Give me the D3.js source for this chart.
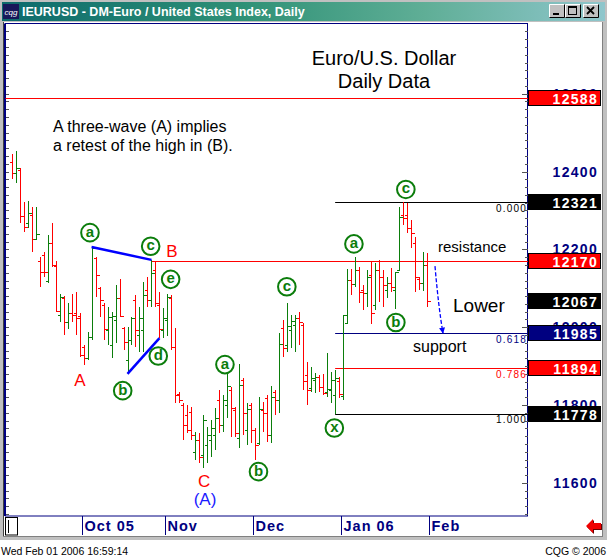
<!DOCTYPE html>
<html>
<head>
<meta charset="utf-8">
<script src="https://cdn.jsdelivr.net/npm/d3@7"></script>
<style>
html, body { margin: 0; padding: 0; background: #fff; overflow: hidden; }
svg { display: block; }
text { font-family: "Liberation Sans", Arial, sans-serif; }
</style>
</head>
<body>
<svg id="chart" width="607" height="558"></svg>
<script>
// EUR/USD daily bars, every weekday from Sep 8 2005 to Feb 1 2006
const firstDay = '2005-09-08';
const lastDay = '2006-02-01';

const highs = [
  12445, 12452, 12409, 12321, 12324, 12309, 12309, 12180, 12193, 12237,
  12268, 12170, 12085, 12080, 12062, 12085, 12090, 12037, 11954, 11988,
  12206, 12180, 12103, 12062, 12052, 12039, 12108, 12124, 12001, 12001,
  12026, 12083, 12052, 12116, 12129, 12173, 12167, 12090, 12049, 12085,
  12083, 11998, 11834, 11806, 11800, 11795, 11731, 11728, 11775, 11744,
  11762, 11793, 11839, 11826, 11883, 11847, 11795, 11906, 11870, 11806,
  11806, 11741, 11821, 11808, 11826, 11849, 11839, 11985, 12019, 12062,
  12031, 12031, 12039, 12011, 11911, 11898, 11883, 11877, 11880, 11934,
  11885, 11890, 11872, 12031, 12149, 12149, 12180, 12155, 12108, 12147,
  12170, 12165, 12173, 12147, 12129, 12152, 12142, 12309, 12321, 12319,
  12275, 12232, 12129, 12193, 12191
];
const lows = [
  12381, 12370, 12268, 12244, 12255, 12193, 12224, 12103, 12129, 12114,
  12155, 12039, 12013, 11980, 11995, 12013, 11980, 11924, 11903, 11916,
  11967, 12078, 12026, 11967, 11954, 11921, 11960, 12026, 11942, 11880,
  11954, 11949, 11936, 11936, 12052, 12052, 12052, 11972, 11972, 11977,
  11942, 11806, 11806, 11711, 11728, 11711, 11659, 11651, 11639, 11651,
  11667, 11685, 11728, 11731, 11767, 11718, 11718, 11690, 11723, 11698,
  11703, 11659, 11698, 11731, 11705, 11703, 11775, 11780, 11924, 11936,
  11947, 11936, 11954, 11839, 11800, 11834, 11831, 11834, 11826, 11821,
  11806, 11778, 11818, 11813, 12008, 12083, 12103, 12062, 12044, 12052,
  12008, 12044, 12065, 12052, 12075, 12090, 12047, 12147, 12262, 12242,
  12203, 12090, 12096, 12093, 12052
];
const opens = [
  12424, 12396, 12404, 12286, 12268, 12288, 12226, 12170, 12185, 12119,
  12216, 12157, 12031, 12075, 12013, 12037, 12037, 12029, 11949, 11921,
  11975, 12178, 12101, 12057, 11993, 11954, 12019, 12075, 11998, 11916,
  11967, 12070, 11980, 11993, 12096, 12070, 12147, 12057, 11993, 12019,
  12075, 11949, 11829, 11800, 11775, 11782, 11680, 11711, 11672, 11698,
  11711, 11723, 11813, 11749, 11800, 11839, 11788, 11716, 11865, 11736,
  11800, 11736, 11703, 11788, 11818, 11723, 11834, 11813, 11998, 11954,
  11993, 12006, 12024, 12006, 11877, 11844, 11865, 11872, 11847, 11834,
  11839, 11826, 11862, 11823, 12011, 12121, 12111, 12147, 12096, 12088,
  12134, 12057, 12147, 12129, 12096, 12114, 12096, 12147, 12288, 12288,
  12255, 12216, 12124, 12114, 12160
];
const closes = [
  12396, 12409, 12286, 12257, 12293, 12226, 12239, 12142, 12142, 12216,
  12160, 12042, 12078, 12013, 12037, 12031, 12024, 11929, 11921, 11975,
  12203, 12134, 12070, 11995, 12026, 12029, 12075, 12029, 11962, 11967,
  12024, 11993, 12024, 12083, 12070, 12139, 12062, 11995, 12024, 12078,
  11949, 11826, 11813, 11749, 11736, 11723, 11711, 11667, 11762, 11723,
  11741, 11767, 11749, 11813, 11849, 11793, 11728, 11852, 11780, 11790,
  11736, 11698, 11790, 11780, 11723, 11821, 11813, 11957, 11947, 12003,
  12016, 12024, 12013, 11862, 11839, 11870, 11872, 11847, 11831, 11841,
  11865, 11870, 11829, 12031, 12121, 12111, 12147, 12090, 12088, 12129,
  12037, 12147, 12129, 12108, 12114, 12103, 12142, 12283, 12280, 12255,
  12242, 12129, 12114, 12160, 12067
];

// levels drawn across the chart
const highInB = 12588;
const resistanceLevel = 12170;
const fibHigh = 12321;
const fibLow = 11778;
const fibRatios = [0, 0.618, 0.786, 1];
const priceLabels = [12600, 12400, 12200, 12000, 11800, 11600];

// elliott wave labels: bar number (from first bar) and price they sit at
const circledLabels = [
  { t: 'a', bar: 19.6, price: 12243 },
  { t: 'c', bar: 34.8, price: 12208 },
  { t: 'e', bar: 39.8, price: 12123 },
  { t: 'd', bar: 36.7, price: 11926 },
  { t: 'b', bar: 27.8, price: 11837 },
  { t: 'a', bar: 53.4, price: 11904 },
  { t: 'b', bar: 61.8, price: 11629 },
  { t: 'c', bar: 68.9, price: 12104 },
  { t: 'x', bar: 80.8, price: 11741 },
  { t: 'a', bar: 85.7, price: 12214 },
  { t: 'b', bar: 96.2, price: 12012 },
  { t: 'c', bar: 98.7, price: 12354 }
];
const waveLetters = [
  { t: 'B', bar: 40.1, price: 12196 },
  { t: 'A', bar: 17.1, price: 11865 },
  { t: 'C', bar: 48.2, price: 11605 },
  { t: '(A)', bar: 48.4, price: 11559 }
];
// triangle (B): line over the a-c highs, line under the b-d lows
const triangleTop = [20, 35];
const triangleBottom = [29, 37];

const GREEN = '#0b7d0b', RED = '#ff0000', NAVY = '#000080', BLUE = '#0000ff';

const parseDay = d3.utcParse('%Y-%m-%d');
const days = d3.utcDay.range(parseDay(firstDay), d3.utcDay.offset(parseDay(lastDay), 1))
  .filter(function(d) { return d.getUTCDay() > 0 && d.getUTCDay() < 6; });
const bars = days.map(function(d, i) {
  return { date: d, i: i, o: opens[i], h: highs[i], l: lows[i], c: closes[i] };
});

const svg = d3.select('#chart');
const plot = { left: 5.5, top: 23.5, right: 527.5, bottom: 516 };

const x = d3.scaleLinear().domain([0, bars.length - 1]).range([11.7, 427]);
const y = d3.scaleLinear().domain([11515, 12779]).range([516, 24]);
const px = function(v) { return Math.round(v) + 0.5; };

// ---- window chrome ----
svg.append('rect').attr('width', 607).attr('height', 558).attr('fill', '#fff');
svg.append('rect').attr('x', 0).attr('y', 0).attr('width', 607).attr('height', 22).attr('fill', '#c0c0c0');
svg.append('rect').attr('x', 0).attr('y', 0).attr('width', 4).attr('height', 540).attr('fill', '#c0c0c0');
svg.append('rect').attr('x', 602).attr('y', 0).attr('width', 5).attr('height', 540).attr('fill', '#c0c0c0');
svg.append('rect').attr('x', 0).attr('y', 536).attr('width', 607).attr('height', 4).attr('fill', '#c0c0c0');
svg.append('line').attr('x1', 3.5).attr('x2', 3.5).attr('y1', 22).attr('y2', 537).attr('stroke', '#404040');
svg.append('line').attr('x1', 602.5).attr('x2', 602.5).attr('y1', 22).attr('y2', 537).attr('stroke', '#808080');
svg.append('line').attr('x1', 3).attr('x2', 603).attr('y1', 536.5).attr('y2', 536.5).attr('stroke', '#808080');

const grad = svg.append('defs').append('linearGradient').attr('id', 'titlebar');
[['0%', '#0d6a6c'], ['40%', '#2f9176'], ['70%', '#5fae96'], ['100%', '#8fc6cc']].forEach(function(s) {
  grad.append('stop').attr('offset', s[0]).attr('stop-color', s[1]);
});
svg.append('rect').attr('x', 2).attr('y', 2).attr('width', 603).attr('height', 19).attr('fill', 'url(#titlebar)');
svg.append('rect').attr('x', 3).attr('y', 4).attr('width', 16).attr('height', 15).attr('fill', '#17175a');
svg.append('text').attr('x', 11).attr('y', 14.5).attr('text-anchor', 'middle')
  .attr('font-size', 8).attr('font-style', 'italic').attr('fill', '#fff').text('cqg');
svg.append('text').attr('x', 22).attr('y', 16).attr('font-size', 12.5).attr('font-weight', 'bold')
  .attr('fill', '#fff').text('IEURUSD - DM-Euro / United States Index, Daily');

// minimise / maximise / close buttons
[549, 565, 583].forEach(function(bx, k) {
  const b = svg.append('g').attr('transform', 'translate(' + bx + ',4)');
  b.append('rect').attr('width', 16).attr('height', 14).attr('fill', '#c0c0c0');
  b.append('path').attr('d', 'M0.5,13.5V0.5H15.5').attr('fill', 'none').attr('stroke', '#fff');
  b.append('path').attr('d', 'M0.5,13.5H15.5V0.5').attr('fill', 'none').attr('stroke', '#000');
  if (k === 0) b.append('rect').attr('x', 4).attr('y', 9).attr('width', 6).attr('height', 2).attr('fill', '#000');
  if (k === 1) {
    b.append('rect').attr('x', 3.5).attr('y', 2.5).attr('width', 8).attr('height', 8)
      .attr('fill', 'none').attr('stroke', '#000');
    b.append('line').attr('x1', 3.5).attr('x2', 11.5).attr('y1', 3.5).attr('y2', 3.5).attr('stroke', '#000');
  }
  if (k === 2) b.append('path').attr('d', 'M4,3L11,10M11,3L4,10').attr('stroke', '#000').attr('stroke-width', 1.8);
});

// ---- plot frame and price ticks ----
svg.append('rect').attr('x', plot.left).attr('y', plot.top)
  .attr('width', plot.right - plot.left).attr('height', plot.bottom - plot.top)
  .attr('fill', '#fff').attr('stroke', NAVY);
svg.append('line').attr('x1', 5).attr('x2', 5).attr('y1', plot.top).attr('y2', plot.bottom)
  .attr('stroke', NAVY).attr('stroke-width', 2);

const minorTicks = d3.range(11520, 12780, 20);
const majorTicks = minorTicks.filter(function(v) { return v % 200 === 0; });
function tickAxis(g, axis) {
  g.call(axis);
  g.select('.domain').remove();
  g.selectAll('line').attr('stroke', '#555').attr('shape-rendering', 'crispEdges');
  g.selectAll('text').remove();
}
svg.append('g').attr('transform', 'translate(6,0)')
  .call(tickAxis, d3.axisRight(y).tickValues(minorTicks).tickSize(3));
svg.append('g').attr('transform', 'translate(' + plot.right + ',0)')
  .call(tickAxis, d3.axisLeft(y).tickValues(minorTicks).tickSize(3));
svg.append('g').attr('transform', 'translate(' + plot.right + ',0)')
  .call(tickAxis, d3.axisLeft(y).tickValues(majorTicks).tickSize(6));

// ---- horizontal levels ----
svg.append('line').attr('x1', plot.left).attr('x2', plot.right + 1)
  .attr('y1', px(y(highInB))).attr('y2', px(y(highInB))).attr('stroke', RED);
svg.append('line').attr('x1', x(triangleTop[1])).attr('x2', plot.right + 1)
  .attr('y1', px(y(resistanceLevel))).attr('y2', px(y(resistanceLevel))).attr('stroke', RED);

const fibColors = ['#000', NAVY, RED, '#000'];
const fibStart = x(bars.findIndex(function(b) { return b.l === fibLow; }));
const fibs = fibRatios.map(function(r, k) {
  return { r: r, v: Math.round(fibHigh - r * (fibHigh - fibLow)), color: fibColors[k] };
});
const fibG = svg.append('g');
fibG.selectAll('line').data(fibs).join('line')
  .attr('x1', fibStart).attr('x2', plot.right)
  .attr('y1', function(d) { return px(y(d.v)); }).attr('y2', function(d) { return px(y(d.v)); })
  .attr('stroke', function(d) { return d.color; });
fibG.selectAll('text').data(fibs).join('text')
  .attr('x', 527).attr('y', function(d) { return y(d.v) + 9.5; })
  .attr('text-anchor', 'end').attr('font-family', '"DejaVu Sans Mono", monospace')
  .attr('font-size', 10).attr('letter-spacing', 1.2)
  .attr('fill', function(d) { return d.color; })
  .text(function(d) { return d.r.toFixed(3); });

// ---- bars ----
svg.append('g').selectAll('path').data(bars).join('path')
  .attr('fill', 'none').attr('shape-rendering', 'crispEdges')
  .attr('stroke', function(d) { return d.c > d.o ? GREEN : RED; })
  .attr('d', function(d) {
    const bx = px(x(d.i));
    const yo = px(y(d.o)), yc = px(y(d.c));
    return 'M' + bx + ',' + Math.round(y(d.h)) + 'V' + Math.round(y(d.l)) +
      'M' + (bx - 3) + ',' + yo + 'H' + bx + 'M' + bx + ',' + yc + 'H' + (bx + 3);
  });

// ---- triangle lines ----
svg.append('line')
  .attr('x1', x(triangleTop[0])).attr('y1', y(highs[triangleTop[0]]))
  .attr('x2', x(triangleTop[1])).attr('y2', y(highs[triangleTop[1]]))
  .attr('stroke', BLUE).attr('stroke-width', 2.5);
svg.append('line')
  .attr('x1', x(triangleBottom[0])).attr('y1', y(lows[triangleBottom[0]]))
  .attr('x2', x(triangleBottom[1])).attr('y2', y(lows[triangleBottom[1]]))
  .attr('stroke', BLUE).attr('stroke-width', 2.5);

// ---- wave labels ----
const circ = svg.append('g').selectAll('g').data(circledLabels).join('g')
  .attr('transform', function(d) { return 'translate(' + x(d.bar) + ',' + y(d.price) + ')'; });
circ.append('circle').attr('r', 8.8).attr('fill', 'none').attr('stroke', GREEN).attr('stroke-width', 2);
circ.append('text').attr('text-anchor', 'middle').attr('y', 4)
  .attr('font-family', '"Liberation Serif", "Times New Roman", serif')
  .attr('font-weight', 'bold').attr('font-size', 15).attr('fill', GREEN)
  .text(function(d) { return d.t; });

svg.append('g').selectAll('text').data(waveLetters).join('text')
  .attr('x', function(d) { return x(d.bar); })
  .attr('y', function(d) { return y(d.price) + 6; })
  .attr('text-anchor', 'middle').attr('font-size', 17)
  .attr('fill', function(d) { return d.t === '(A)' ? '#1a1aff' : RED; })
  .text(function(d) { return d.t; });

// ---- projection arrow ----
const defs = svg.select('defs');
defs.append('marker').attr('id', 'head').attr('viewBox', '0 0 10 10')
  .attr('refX', 9).attr('refY', 5).attr('markerWidth', 6).attr('markerHeight', 8)
  .attr('markerUnits', 'userSpaceOnUse').attr('orient', 'auto')
  .append('path').attr('d', 'M0,0L10,5L0,10Z').attr('fill', BLUE);
const arrowPath = d3.path();
arrowPath.moveTo(x(106), y(12157));
arrowPath.quadraticCurveTo(x(106.9), y(12050), x(108), y(fibs[1].v));
svg.append('path').attr('d', arrowPath.toString()).attr('fill', 'none')
  .attr('stroke', BLUE).attr('stroke-width', 1.3).attr('stroke-dasharray', '4,2')
  .attr('marker-end', 'url(#head)');

// ---- text notes ----
svg.append('text').attr('x', 384).attr('y', 65).attr('text-anchor', 'middle')
  .attr('font-size', 20).attr('fill', '#000').text('Euro/U.S. Dollar');
svg.append('text').attr('x', 384).attr('y', 88).attr('text-anchor', 'middle')
  .attr('font-size', 20).attr('fill', '#000').text('Daily Data');
svg.append('text').attr('x', 53).attr('y', 132).attr('font-size', 16).text('A three-wave (A) implies');
svg.append('text').attr('x', 53).attr('y', 151).attr('font-size', 16).text('a retest of the high in (B).');
svg.append('text').attr('x', 438).attr('y', y(resistanceLevel) - 9).attr('font-size', 15).text('resistance');
svg.append('text').attr('x', 453).attr('y', 312).attr('font-size', 19).text('Lower');
svg.append('text').attr('x', 413).attr('y', y(fibs[1].v) + 19).attr('font-size', 16).text('support');

// ---- right price scale ----
svg.append('g').selectAll('text').data(priceLabels).join('text')
  .attr('x', 598).attr('y', function(d) { return y(d) + 5; })
  .attr('text-anchor', 'end').attr('font-size', 14).attr('font-weight', 'bold')
  .attr('letter-spacing', 1.3).attr('fill', NAVY)
  .text(function(d) { return d; });

const boxes = [
  { v: highInB, color: RED },
  { v: fibs[0].v, color: '#000' },
  { v: resistanceLevel, color: RED },
  { v: closes[closes.length - 1], color: '#000' },
  { v: fibs[1].v, color: NAVY },
  { v: fibs[2].v, color: RED },
  { v: fibs[3].v, color: '#000' }
];
const boxG = svg.append('g').selectAll('g').data(boxes).join('g')
  .attr('transform', function(d) { return 'translate(0,' + Math.round(y(d.v)) + ')'; });
boxG.append('rect').attr('x', 528.5).attr('y', -7.5).attr('width', 72).attr('height', 15)
  .attr('fill', function(d) { return d.color; }).attr('stroke', '#000');
boxG.append('text').attr('x', 598).attr('y', 5.5).attr('text-anchor', 'end')
  .attr('font-size', 14).attr('font-weight', 'bold').attr('letter-spacing', 1.3)
  .attr('fill', '#fff').text(function(d) { return d.v; });

// ---- date axis ----
const monthStarts = bars.filter(function(b, i) {
  return i > 0 && b.date.getUTCMonth() !== bars[i - 1].date.getUTCMonth();
});
const dateG = svg.append('g').selectAll('g').data(monthStarts).join('g')
  .attr('transform', function(d) { return 'translate(' + px(x(d.i) + 2) + ',0)'; });
dateG.append('line').attr('y1', plot.bottom).attr('y2', 535).attr('stroke', NAVY);
dateG.append('text').attr('x', 2).attr('y', 531)
  .attr('font-family', '"DejaVu Sans Mono", monospace').attr('font-weight', 'bold')
  .attr('font-size', 14.5).attr('letter-spacing', 1).attr('fill', NAVY)
  .text(function(d, k) {
    return (k === 0 || d.date.getUTCMonth() === 0) ? d3.utcFormat('%b %y')(d.date) : d3.utcFormat('%b')(d.date);
  });
svg.append('rect').attr('x', 5.5).attr('y', 517.5).attr('width', 12).attr('height', 17.5)
  .attr('fill', '#fff').attr('stroke', '#000');
svg.append('line').attr('x1', 8.5).attr('x2', 8.5).attr('y1', 520).attr('y2', 533).attr('stroke', '#000');

// scroll arrow
const arrowPts = '586,526 593,519 593,523 601,523 601,529 593,529 593,533';
svg.append('polygon').attr('points', arrowPts).attr('fill', '#600').attr('transform', 'translate(1,1)');
svg.append('polygon').attr('points', arrowPts).attr('fill', '#f00000');

// ---- status line ----
svg.append('text').attr('x', 1).attr('y', 555).attr('font-size', 10.5).text('Wed Feb 01 2006 16:59:14');
svg.append('text').attr('x', 606).attr('y', 555).attr('text-anchor', 'end').attr('font-size', 10.5).text('CQG © 2006');
</script>
</body>
</html>
